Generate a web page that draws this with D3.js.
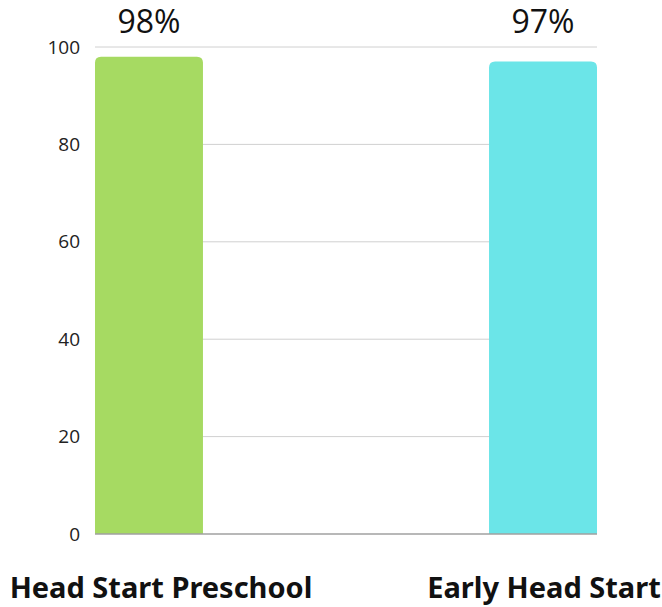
<!DOCTYPE html>
<html>
<head>
<meta charset="utf-8">
<script src="https://cdn.jsdelivr.net/npm/d3@7"></script>
<style>
  body { margin: 0; background: #fff; }
  text { font-family: "Noto Sans", sans-serif; }
</style>
</head>
<body>
<script>
var categories = ["Head Start Preschool", "Early Head Start"];
var values = [98, 97];
var valueLabels = ["98%", "97%"];
var colors = ["#a6da62", "#6be5e8"];
var yTicks = [0, 20, 40, 60, 80, 100];

var W = 662, H = 607;
var margin = {top: 47, right: 65, bottom: 72, left: 95};
var width = W - margin.left - margin.right;
var height = H - margin.top - margin.bottom - 1;

var svg = d3.select("body").append("svg")
    .attr("width", W)
    .attr("height", H);

var g = svg.append("g")
    .attr("transform", "translate(" + margin.left + "," + margin.top + ")");

var x = d3.scaleBand().domain(categories).range([0, width])
    .paddingInner(0.726).paddingOuter(0);
var y = d3.scaleLinear().domain([0, 100]).range([height, 0]);

// gridlines
g.selectAll(".grid")
  .data(yTicks.filter(function(d) { return d > 0; }))
  .enter().append("line")
  .attr("x1", 0).attr("x2", width)
  .attr("y1", function(d) { return y(d); })
  .attr("y2", function(d) { return y(d); })
  .attr("stroke", "#d0d0d0").attr("stroke-width", 1);

// y axis labels
var yAxis = g.append("g")
  .call(d3.axisLeft(y).tickValues(yTicks).tickSize(0).tickPadding(15));
yAxis.select(".domain").remove();
yAxis.selectAll("text")
  .attr("font-size", 19)
  .attr("fill", "#222")
  .style("font-family", "'Open Sans', sans-serif");

// bars with rounded top corners
var r = 6;
function barPath(d, i) {
  var x0 = x(categories[i]), bw = x.bandwidth();
  var yt = y(d), yb = y(0);
  return "M" + x0 + "," + yb +
    "V" + (yt + r) +
    "Q" + x0 + "," + yt + " " + (x0 + r) + "," + yt +
    "H" + (x0 + bw - r) +
    "Q" + (x0 + bw) + "," + yt + " " + (x0 + bw) + "," + (yt + r) +
    "V" + yb + "Z";
}
g.selectAll(".bar")
  .data(values)
  .enter().append("path")
  .attr("class", "bar")
  .attr("d", barPath)
  .attr("fill", function(d, i) { return colors[i]; });

// baseline
g.append("line")
  .attr("x1", 0).attr("x2", width)
  .attr("y1", y(0)).attr("y2", y(0))
  .attr("stroke", "#a0a0a0").attr("stroke-width", 1.5);

// value labels
g.selectAll(".val")
  .data(valueLabels)
  .enter().append("text")
  .attr("x", function(d, i) { return x(categories[i]) + x.bandwidth() / 2; })
  .attr("y", -14)
  .attr("text-anchor", "middle")
  .attr("font-size", 32)
  .attr("fill", "#111")
  .style("font-family", "'Open Sans', sans-serif")
  .text(function(d) { return d; });

// category labels
g.selectAll(".cat")
  .data(categories)
  .enter().append("text")
  .attr("x", function(d, i) { return x(d) + x.bandwidth() / 2 + (i === 0 ? 12 : 1); })
  .attr("y", height + 64)
  .attr("text-anchor", "middle")
  .attr("font-size", 29)
  .attr("font-weight", "bold")
  .attr("fill", "#111")
  .text(function(d) { return d; });
</script>
</body>
</html>
